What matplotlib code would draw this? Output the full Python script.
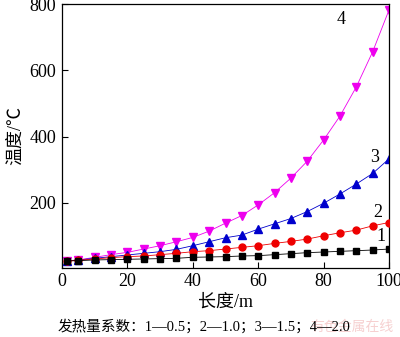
import numpy as np
import matplotlib.pyplot as plt

plt.rcParams['font.family'] = ['Liberation Serif', 'Noto Sans CJK SC']
plt.rcParams['mathtext.fontset'] = 'stix'

# 长度 (m)
x = [1.5, 5, 10, 15, 20, 25, 30, 35, 40, 45, 50, 55, 60, 65, 70,
     75, 80, 85, 90, 95, 100]

# 温度 (℃) 各发热量系数
t1 = [25, 26, 28, 29, 30, 31, 32, 33, 36, 37, 38, 40, 41, 44, 47,
      50, 52, 54, 56, 58, 61]
t2 = [25, 27, 31, 35, 38, 40, 44, 48, 53, 56, 61, 66, 71, 78, 84,
      91, 101, 110, 118, 131, 141]
t3 = [25, 28, 33, 38, 43, 48, 53, 60, 71, 83, 95, 103, 121, 137, 153,
      174, 199, 227, 257, 289, 333]
t4 = [25, 28, 36, 44, 51, 61, 71, 83, 96, 115, 139, 162, 194, 231, 275,
      326, 390, 462, 550, 656, 782]

xticks = [0, 20, 40, 60, 80, 100]
yticks = [200, 400, 600, 800]

fig = plt.figure(figsize=(4.0, 3.37), dpi=100)
ax = fig.add_axes([0.155, 0.205, 0.8175, 0.783])

ax.plot(x, t1, '-s', color='black', lw=0.6, ms=4.3, zorder=4)
ax.plot(x, t2, '-o', color='#ee0000', lw=0.6, ms=5.0, zorder=3)
ax.plot(x, t3, '-^', color='#0000cc', lw=0.6, ms=5.5, zorder=2)
ax.plot(x, t4, '-v', color='#ee00ee', lw=0.6, ms=5.5, zorder=1)

# 曲线编号
ax.text(85.3, 752, '4', fontsize=13, ha='center', va='center')
ax.text(95.5, 338, '3', fontsize=13, ha='center', va='center')
ax.text(96.5, 170, '2', fontsize=13, ha='center', va='center')
ax.text(97.5, 98, '1', fontsize=13, ha='center', va='center')

ax.set_xlim(0, 100)
ax.set_ylim(4, 800)
ax.set_xticks(xticks)
ax.set_yticks(yticks)
ax.tick_params(direction='in', length=4, width=0.8, labelsize=13, pad=4)
for s in ax.spines.values():
    s.set_linewidth(0.9)

ax.set_xlabel('长度/m', fontsize=13, labelpad=2)
ax.set_ylabel('温度/℃', fontsize=13, labelpad=4)

fig.text(0.145, 0.03, '发热量系数：1—0.5；2—1.0；3—1.5；4—2.0',
         fontsize=10.5, ha='left', va='center')
fig.text(0.775, 0.03, '有色金属在线', fontsize=10, color='#f6d0d0',
         ha='left', va='center', zorder=0)

fig.savefig('out.png', dpi=100)
